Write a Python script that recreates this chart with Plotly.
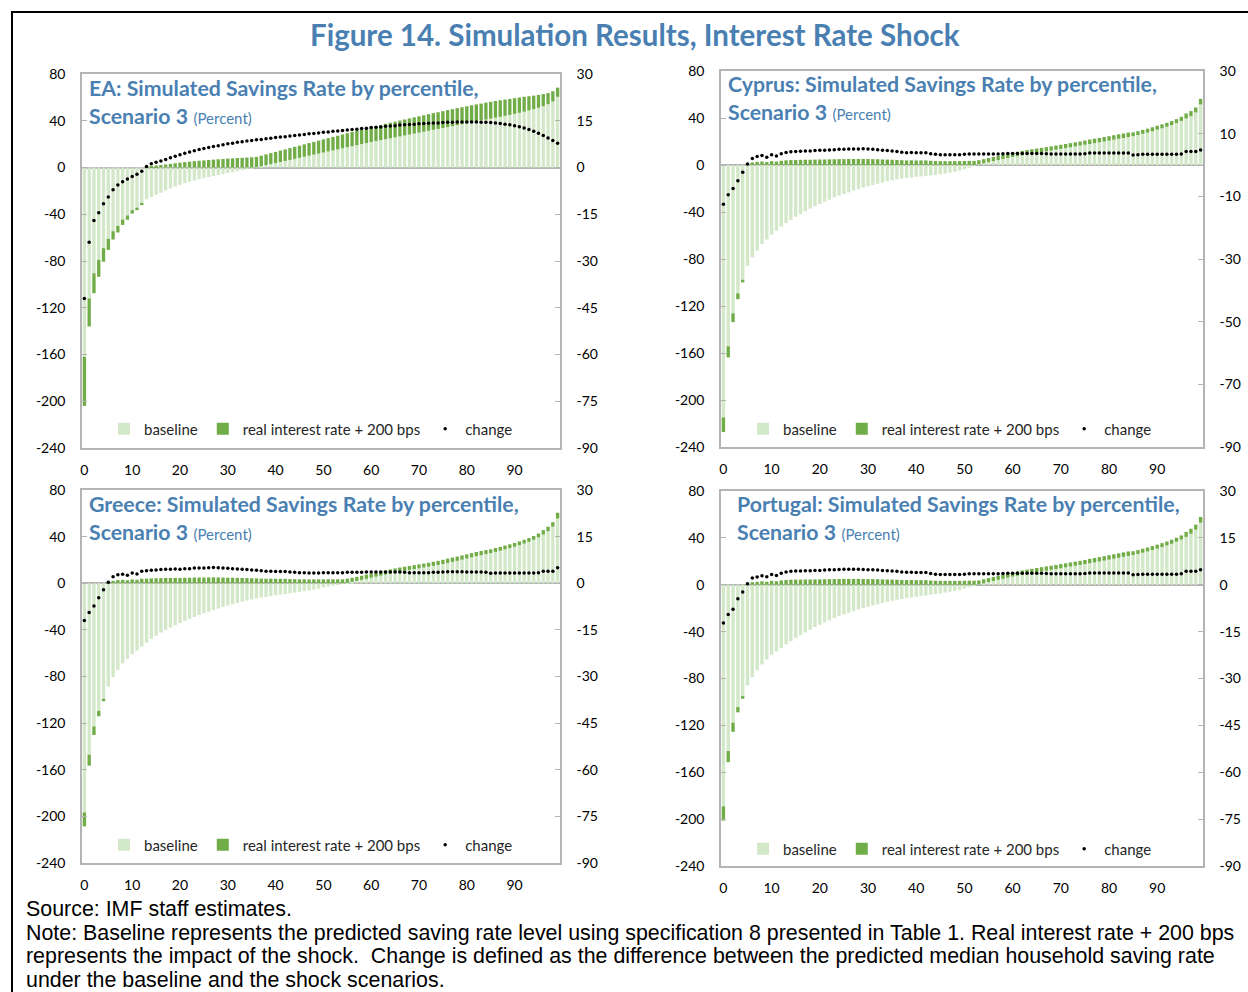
import plotly.graph_objects as go

# Percentile index (0..99) and the labelled ticks on the horizontal axis
pct = list(range(100))
x_ticks = list(range(0, 100, 10))
left_ticks = list(range(-240, 81, 40))

# ---------------- EA ----------------
ea_base = [
    -162.0, -112.0, -90.5, -79.0, -69.0, -61.0, -54.5, -50.0, -44.5, -41.0,
    -36.5, -34.3, -31.0, -27.2, -25.2, -23.3, -21.6, -19.6, -17.9, -16.2,
    -14.8, -13.3, -12.2, -11.1, -9.9, -9.1, -8.2, -7.4, -6.5, -5.7,
    -4.8, -4.0, -3.1, -2.4, -1.6, -0.8, 0.2, 1.1, 2.0, 2.9,
    3.8, 4.7, 5.6, 6.5, 7.4, 8.3, 9.2, 10.1, 11.0, 11.9,
    12.8, 13.7, 14.6, 15.5, 16.4, 17.3, 18.2, 19.1, 20.0, 20.9,
    21.8, 22.6, 23.4, 24.2, 25.0, 25.8, 26.6, 27.4, 28.2, 29.0,
    29.8, 30.6, 31.4, 32.2, 33.0, 33.8, 34.6, 35.4, 36.2, 37.0,
    37.8, 38.6, 39.4, 40.2, 41.0, 41.8, 42.6, 43.4, 44.2, 45.0,
    45.9, 46.8, 47.8, 48.8, 49.9, 51.1, 52.5, 54.2, 56.5, 60.5,
]
ea_change = [
    -42.0, -24.0, -17.0, -14.5, -11.6, -9.5, -7.1, -5.6, -4.6, -3.7,
    -2.9, -2.2, -1.2, 0.3, 1.2, 1.7, 2.1, 2.6, 3.1, 3.6,
    4.1, 4.6, 5.0, 5.4, 5.8, 6.1, 6.4, 6.7, 7.0, 7.3,
    7.6, 7.8, 8.1, 8.3, 8.5, 8.7, 8.9, 9.0, 9.2, 9.4,
    9.6, 9.8, 9.9, 10.1, 10.3, 10.4, 10.6, 10.8, 10.9, 11.1,
    11.3, 11.4, 11.6, 11.7, 11.9, 12.0, 12.2, 12.3, 12.5, 12.6,
    12.8, 12.9, 13.0, 13.2, 13.3, 13.4, 13.6, 13.7, 13.8, 13.9,
    14.0, 14.1, 14.2, 14.3, 14.3, 14.4, 14.5, 14.5, 14.6, 14.6,
    14.6, 14.6, 14.6, 14.5, 14.5, 14.4, 14.3, 14.1, 13.9, 13.7,
    13.4, 13.1, 12.7, 12.2, 11.6, 11.0, 10.3, 9.5, 8.7, 7.8,
]

# ---------------- Cyprus ----------------
cy_base = [
    -214.8, -154.3, -126.2, -109.2, -97.6, -85.7, -78.6, -72.9, -67.2, -63.5,
    -59.3, -55.9, -52.5, -49.4, -46.8, -44.0, -41.7, -39.4, -37.2, -34.9,
    -33.2, -31.2, -29.5, -27.5, -26.1, -24.7, -23.3, -21.8, -20.7, -19.3,
    -18.2, -17.0, -15.9, -15.0, -13.9, -13.0, -12.2, -11.6, -11.1, -10.6,
    -10.1, -9.7, -9.3, -8.9, -8.4, -7.9, -7.3, -6.6, -5.8, -4.8,
    -3.6, -2.2, -0.8, 0.6, 1.5, 2.4, 3.3, 4.2, 5.1, 6.0,
    6.9, 7.6, 8.3, 9.0, 9.7, 10.3, 10.9, 11.6, 12.3, 13.0,
    13.7, 14.4, 15.1, 15.8, 16.5, 17.2, 17.9, 18.6, 19.3, 20.0,
    20.7, 21.5, 22.3, 23.0, 23.8, 24.6, 25.5, 26.5, 27.5, 28.7,
    30.0, 31.2, 32.5, 34.0, 35.6, 37.5, 39.6, 41.6, 44.7, 51.5,
]
cy_change = [
    -12.5, -9.5, -7.5, -5.0, -2.3, 0.3, 2.1, 2.7, 3.0, 2.5,
    3.3, 2.9, 3.6, 4.0, 4.2, 4.3, 4.4, 4.5, 4.5, 4.6,
    4.7, 4.7, 4.8, 4.9, 5.0, 5.0, 5.1, 5.1, 5.1, 5.2,
    5.1, 5.0, 4.9, 4.7, 4.6, 4.5, 4.3, 4.1, 3.9, 4.0,
    3.9, 3.9, 3.9, 3.6, 3.4, 3.3, 3.3, 3.3, 3.3, 3.3,
    3.4, 3.5, 3.5, 3.5, 3.5, 3.5, 3.5, 3.5, 3.6, 3.7,
    3.7, 3.7, 3.7, 3.7, 3.7, 3.7, 3.7, 3.6, 3.5, 3.5,
    3.5, 3.5, 3.5, 3.5, 3.5, 3.6, 3.8, 3.8, 3.8, 3.8,
    3.8, 3.8, 3.8, 3.8, 3.8, 3.2, 3.3, 3.4, 3.4, 3.4,
    3.4, 3.4, 3.4, 3.4, 3.4, 3.5, 4.3, 4.3, 4.3, 4.8,
]

# ---------------- Greece ----------------
gr_base = [
    -196.6, -147.1, -122.9, -109.4, -99.1, -88.6, -80.6, -74.3, -68.6, -64.9,
    -60.9, -57.7, -54.3, -50.9, -47.7, -45.1, -42.3, -40.0, -38.0, -36.0,
    -34.3, -32.3, -30.6, -28.9, -27.1, -25.7, -24.3, -22.9, -21.7, -20.3,
    -19.1, -18.0, -16.9, -15.7, -14.8, -13.9, -13.1, -12.4, -11.7, -11.0,
    -10.4, -9.8, -9.2, -8.6, -8.0, -7.4, -6.8, -6.2, -5.5, -4.7,
    -3.6, -2.8, -2.0, -1.2, -0.4, 0.4, 1.2, 2.0, 2.9, 3.8,
    4.7, 5.6, 6.5, 7.4, 8.3, 9.1, 9.9, 10.7, 11.4, 12.1,
    12.8, 13.5, 14.2, 14.9, 15.7, 16.5, 17.4, 18.3, 19.2, 20.2,
    21.2, 22.2, 23.2, 24.1, 25.0, 25.9, 26.9, 27.9, 29.0, 30.1,
    31.3, 32.6, 34.0, 35.5, 37.3, 39.3, 41.7, 44.6, 48.5, 55.5,
]
gr_change = [
    -12.0, -9.4, -7.3, -4.7, -2.1, 0.3, 2.1, 2.7, 2.9, 2.6,
    3.3, 3.0, 3.9, 4.0, 4.2, 4.3, 4.4, 4.5, 4.5, 4.6,
    4.5, 4.7, 4.7, 4.9, 4.9, 4.9, 5.0, 5.1, 5.0, 4.9,
    4.8, 4.7, 4.6, 4.5, 4.4, 4.3, 4.2, 4.0, 3.9, 3.9,
    3.8, 3.8, 3.8, 3.6, 3.5, 3.4, 3.4, 3.3, 3.3, 3.3,
    3.4, 3.4, 3.4, 3.4, 3.4, 3.5, 3.5, 3.5, 3.5, 3.6,
    3.6, 3.6, 3.6, 3.6, 3.6, 3.6, 3.6, 3.5, 3.4, 3.4,
    3.4, 3.4, 3.4, 3.5, 3.5, 3.6, 3.7, 3.7, 3.7, 3.7,
    3.6, 3.6, 3.6, 3.6, 3.5, 3.2, 3.3, 3.3, 3.3, 3.3,
    3.3, 3.3, 3.3, 3.3, 3.3, 3.4, 3.9, 3.9, 3.9, 5.0,
]

# ---------------- Portugal ----------------
pt_base = [
    -189.1, -141.9, -117.7, -104.4, -95.0, -85.9, -78.8, -73.1, -68.0, -63.7,
    -59.7, -56.9, -54.0, -50.9, -48.1, -45.2, -42.9, -40.7, -38.4, -36.1,
    -34.1, -32.1, -30.4, -28.4, -26.5, -25.3, -23.9, -22.5, -21.0, -19.9,
    -18.8, -17.6, -16.5, -15.6, -14.6, -13.7, -12.9, -12.2, -11.5, -10.9,
    -10.3, -9.7, -9.1, -8.5, -7.9, -7.3, -6.7, -6.0, -5.2, -4.3,
    -3.3, -2.2, -1.0, 0.2, 1.2, 2.2, 3.2, 4.2, 5.1, 6.0,
    6.9, 7.7, 8.5, 9.2, 9.9, 10.6, 11.3, 12.0, 12.7, 13.4,
    14.1, 14.8, 15.5, 16.2, 16.9, 17.6, 18.3, 19.0, 19.8, 20.6,
    21.4, 22.2, 23.0, 23.8, 24.6, 25.4, 26.3, 27.3, 28.4, 29.6,
    30.8, 32.1, 33.5, 35.0, 36.7, 38.6, 40.8, 43.5, 47.0, 53.0,
]
pt_change = [
    -12.2, -9.5, -7.8, -4.5, -2.3, 0.3, 2.2, 2.5, 2.9, 2.6,
    3.3, 3.0, 3.7, 4.1, 4.3, 4.4, 4.4, 4.5, 4.5, 4.6,
    4.6, 4.7, 4.8, 4.8, 4.9, 5.0, 5.0, 5.0, 5.0, 4.9,
    4.8, 4.8, 4.7, 4.6, 4.5, 4.4, 4.3, 4.1, 4.0, 4.0,
    3.9, 3.9, 3.9, 3.6, 3.4, 3.3, 3.3, 3.3, 3.3, 3.3,
    3.4, 3.5, 3.5, 3.5, 3.5, 3.5, 3.5, 3.5, 3.6, 3.7,
    3.7, 3.7, 3.7, 3.7, 3.7, 3.7, 3.7, 3.6, 3.5, 3.5,
    3.5, 3.5, 3.5, 3.5, 3.5, 3.6, 3.8, 3.8, 3.8, 3.8,
    3.8, 3.8, 3.8, 3.8, 3.8, 3.2, 3.3, 3.4, 3.4, 3.4,
    3.4, 3.4, 3.4, 3.4, 3.4, 3.5, 4.3, 4.3, 4.3, 4.8,
]

W, H = 1248, 992
BLUE = "#4a7fb2"
LIGHT = "#d3e8c8"
DARK = "#70ad47"
FRAME = "#b4b4b4"
PANEL_FONT = "Lato"


def fx(p):
    return p / W


def fy(p):
    return 1 - p / H


# name, baseline, change, plot box (left, right, top, bottom px),
# right-axis tick step, title anchor (px), legend anchor (px)
panels = [
    ("EA", ea_base, ea_change, (82, 560, 74, 448), 15, (87, 73), (104, 429)),
    ("Cyprus", cy_base, cy_change, (721, 1203, 71, 447), 20, (726, 69), (743, 429)),
    ("Greece", gr_base, gr_change, (82, 560, 490, 863), 15, (87, 489), (104, 845)),
    ("Portugal", pt_base, pt_change, (721, 1203, 491, 866), 15, (735, 489), (743, 849)),
]

fig = go.Figure()
layout = dict(annotations=[])

for k, (name, base, change, box, rstep, tpos, lpos) in enumerate(panels, start=1):
    xa = "x" if k == 1 else f"x{k}"
    yl = "y" if k == 1 else f"y{2 * k - 1}"
    yr = f"y{2 * k}"
    leg = "legend" if k == 1 else f"legend{k}"

    fig.add_trace(go.Bar(
        x=pct, y=base, name="baseline", marker=dict(color=LIGHT, line_width=0),
        xaxis=xa, yaxis=yl, legend=leg,
    ))
    fig.add_trace(go.Bar(
        x=pct, y=change, name="real interest rate + 200 bps",
        marker=dict(color=DARK, line_width=0),
        xaxis=xa, yaxis=yl, legend=leg,
    ))
    fig.add_trace(go.Scatter(
        x=pct, y=change, name="change", mode="markers",
        marker=dict(color="black", size=3.5),
        xaxis=xa, yaxis=yr, legend=leg,
    ))

    left, right, top, bottom = box
    tick_font = dict(family=PANEL_FONT, size=14, color="#000000")
    xkey = "xaxis" if k == 1 else f"xaxis{k}"
    ylkey = "yaxis" if k == 1 else f"yaxis{2 * k - 1}"
    yrkey = f"yaxis{2 * k}"
    right_ticks = list(range(-90, 31, rstep))

    layout[xkey] = dict(
        domain=[fx(left), fx(right)], anchor=yl, range=[-0.5, 99.5],
        tickmode="array", tickvals=x_ticks, ticks="", showgrid=False,
        zeroline=False, showline=True, mirror=True, linecolor=FRAME,
        linewidth=1.5, tickfont=tick_font, ticklabelstandoff=8,
        automargin=False,
    )
    layout[ylkey] = dict(
        domain=[fy(bottom), fy(top)], anchor=xa, range=[-240, 80],
        tickmode="array", tickvals=left_ticks,
        ticktext=[str(v) for v in left_ticks], ticks="inside", ticklen=5,
        tickcolor=FRAME, showgrid=False, zeroline=True, zerolinecolor=FRAME,
        zerolinewidth=1.5, showline=True, linecolor=FRAME, linewidth=1.5,
        tickfont=tick_font, ticklabelstandoff=12, automargin=False,
    )
    layout[yrkey] = dict(
        overlaying=yl, side="right", anchor=xa, range=[-90, 30],
        tickmode="array", tickvals=right_ticks,
        ticktext=[str(v) for v in right_ticks], ticks="inside", ticklen=5,
        tickcolor=FRAME, showgrid=False, zeroline=False, showline=True,
        linecolor=FRAME, linewidth=1.5, tickfont=tick_font,
        ticklabelstandoff=12, automargin=False,
    )
    layout[leg] = dict(
        orientation="h", x=fx(lpos[0]), y=fy(lpos[1]), xanchor="left",
        yanchor="middle", bgcolor="rgba(0,0,0,0)",
        font=dict(family=PANEL_FONT, size=15, color="#262626"),
        traceorder="normal",
    )
    layout["annotations"].append(dict(
        xref="paper", yref="paper", x=fx(tpos[0]), y=fy(tpos[1]),
        xanchor="left", yanchor="top", align="left", showarrow=False,
        text=(f"<b>{name}: Simulated Savings Rate by percentile,</b><br>"
              "<b>Scenario 3</b> <span style='font-size:15px'>(Percent)</span>"),
        font=dict(family=PANEL_FONT, size=21.3, color=BLUE),
    ))

# Figure title
layout["annotations"].append(dict(
    xref="paper", yref="paper", x=fx(635), y=fy(34), xanchor="center",
    yanchor="middle", showarrow=False,
    text="<b>Figure 14. Simulation Results, Interest Rate Shock</b>",
    font=dict(family=PANEL_FONT, size=29.5, color=BLUE),
))

# Source and note lines
note_lines = [
    "Source: IMF staff estimates.",
    "Note: Baseline represents the predicted saving rate level using specification 8 "
    "presented in Table 1. Real interest rate + 200 bps",
    "represents the impact of the shock.\u00a0 Change is defined as the difference "
    "between the predicted median household saving rate",
    "under the baseline and the shock scenarios.",
]
for j, line in enumerate(note_lines):
    layout["annotations"].append(dict(
        xref="paper", yref="paper", x=fx(24), y=fy(909 + 23.6 * j),
        xanchor="left", yanchor="middle", showarrow=False, text=line,
        font=dict(family="Liberation Sans", size=21.4, color="#000000"),
    ))

fig.update_layout(
    width=W, height=H,
    margin=dict(l=0, r=0, t=0, b=0, pad=0, autoexpand=False),
    paper_bgcolor="white", plot_bgcolor="white",
    barmode="relative", bargap=0.3,
    shapes=[dict(type="rect", xref="paper", yref="paper",
                 x0=fx(12), x1=fx(1262), y0=fy(1010), y1=fy(12),
                 line=dict(color="black", width=2))],
    **layout,
)

# Page chrome: no body margin or scrollbars around the figure
fig.write_html(
    "out.html",
    post_script=("document.body.style.margin='0px';"
                 "document.body.style.overflow='hidden';"),
)
